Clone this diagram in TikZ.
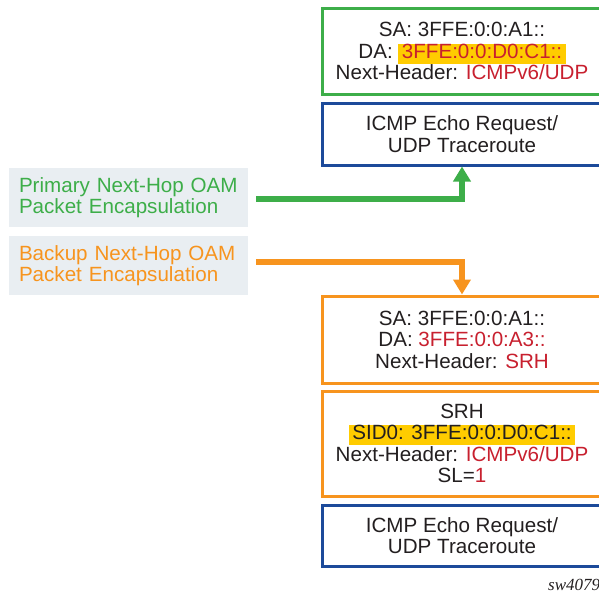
\documentclass[tikz,border=0pt]{standalone}
\usepackage{fontspec}
\setmainfont{Liberation Sans}
\newfontfamily\figidfont{Liberation Serif}
\usetikzlibrary{arrows.meta}

\definecolor{oamgreen}{HTML}{3DAE49}
\definecolor{oamorange}{HTML}{F7941E}
\definecolor{oamblue}{HTML}{1C4A9A}
\definecolor{oamred}{HTML}{C8202F}
\definecolor{oamtext}{HTML}{231F20}
\definecolor{hlyellow}{HTML}{FFCC00}
\definecolor{encapgrey}{HTML}{E9EEF2}

\newcommand{\hlbox}[1]{{\setlength{\fboxsep}{0pt}\colorbox{hlyellow}{\rule[-5.5pt]{0pt}{18.5pt}\,#1\,}}}
\newcommand{\red}[1]{\textcolor{oamred}{#1}}

\begin{document}
\begin{tikzpicture}[
    x=1pt, y=-1pt,
    font=\fontsize{20.6}{21.5}\selectfont,
    text=oamtext,
    pkt/.style={
        rectangle, draw, line width=3pt, fill=white,
        align=center, minimum width=280pt, inner sep=0pt
    },
    encap/.style={
        rectangle, fill=encapgrey, align=left, text width=219pt,
        minimum height=59pt, inner xsep=10pt, inner ysep=0pt
    },
    conn/.style={-{Triangle[width=17pt,length=15pt]}, line width=5.5pt},
]
    \clip (0,0) rectangle (599,595);

    % Column x-coordinates.
    \def\xEncap{128.5}
    \def\xPacket{462}

    % ---------- Primary next-hop packet (top) ----------
    \node[pkt, draw=oamgreen, minimum height=86pt] (ipv6-primary) at (\xPacket, 51)
        {SA: 3FFE:0:0:A1::\\DA: \hlbox{\red{3FFE:0:0:D0:C1::}}\\Next-Header: \red{ICMPv6/UDP}};
    \node[pkt, draw=oamblue, minimum height=62pt] (echo-primary) at (\xPacket, 134)
        {ICMP Echo Request/\\UDP Traceroute};

    % ---------- Encapsulation labels (left) ----------
    \node[encap, text=oamgreen] (primary) at (\xEncap, 197.5)
        {Primary Next-Hop OAM\\Packet Encapsulation};
    \node[encap, text=oamorange] (backup) at (\xEncap, 265.5)
        {Backup Next-Hop OAM\\Packet Encapsulation};

    % ---------- Backup next-hop packet (bottom) ----------
    \node[pkt, draw=oamorange, minimum height=87pt] (ipv6-backup) at (\xPacket, 339.5)
        {SA: 3FFE:0:0:A1::\\DA: \red{3FFE:0:0:A3::}\\Next-Header: \red{SRH}};
    \node[pkt, draw=oamorange, minimum height=105pt] (srh-backup) at (\xPacket, 443.5)
        {SRH\\\hlbox{SID0: 3FFE:0:0:D0:C1::}\\Next-Header: \red{ICMPv6/UDP}\\SL=\red{1}};
    \node[pkt, draw=oamblue, minimum height=61pt] (echo-backup) at (\xPacket, 535.5)
        {ICMP Echo Request/\\UDP Traceroute};

    \draw[conn, oamgreen] ([xshift=8pt, yshift=-1.5pt]primary.east) -| (echo-primary.south);
    \draw[conn, oamorange] ([xshift=8pt, yshift=3.5pt]backup.east) -| (ipv6-backup.north);

    \node[anchor=base west, inner sep=0pt, font=\figidfont\itshape\fontsize{17}{19}\selectfont]
        (fig-id) at (548, 590) {sw4079};

\end{tikzpicture}
\end{document}
